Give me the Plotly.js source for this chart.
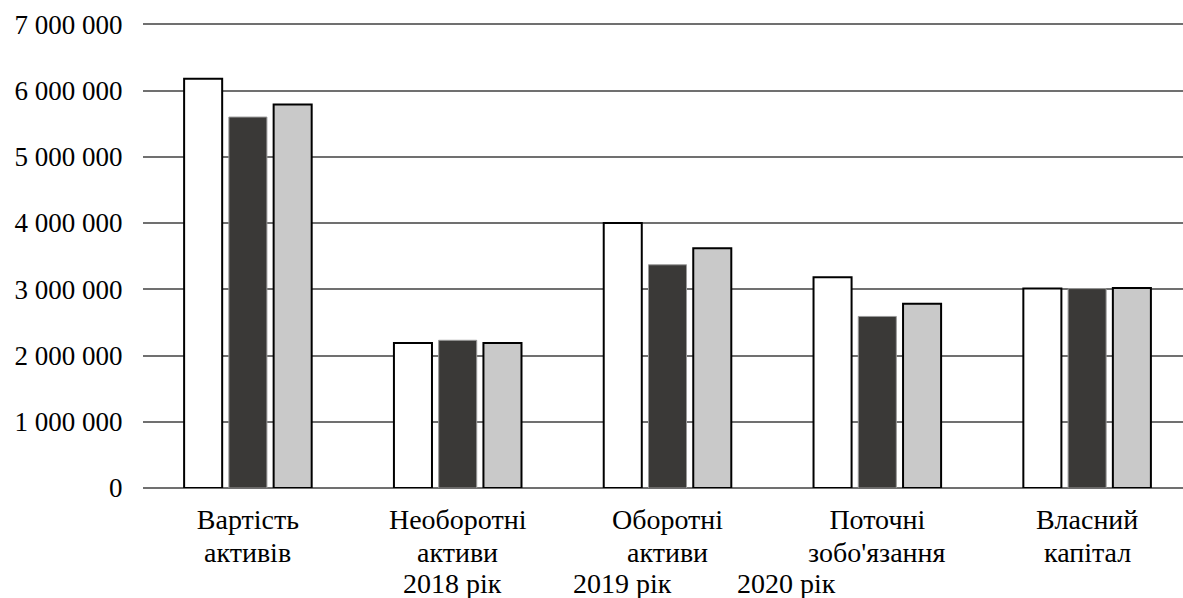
<!DOCTYPE html>
<html>
<head>
<meta charset="utf-8">
<script src="https://cdn.plot.ly/plotly-3.0.1.min.js"></script>
<style>
html,body{margin:0;padding:0;background:#fff;}
#chart{width:1183px;height:598px;}
</style>
</head>
<body>
<div id="chart"></div>
<script>
const categories = ["Вартість<br>активів", "Необоротні<br>активи", "Оборотні<br>активи", "Поточні<br>зобо'язання", "Власний<br>капітал"];
const seriesNames = ["2018 рік", "2019 рік", "2020 рік"];
const values2018 = [6180000, 2190000, 4000000, 3180000, 3010000];
const values2019 = [5600000, 2230000, 3370000, 2590000, 3010000];
const values2020 = [5790000, 2190000, 3620000, 2780000, 3020000];
const yTicks = [0, 1000000, 2000000, 3000000, 4000000, 5000000, 6000000, 7000000];
const yTickLabels = ["0", "1 000 000", "2 000 000", "3 000 000", "4 000 000", "5 000 000", "6 000 000", "7 000 000"];

const FONT = "Liberation Serif, Times New Roman, serif";
const XFS = 28;
const styles = [
  {color: "#ffffff", line: {color: "#000000", width: 2}},
  {color: "#3a3937", line: {color: "#9a9a9a", width: 1}},
  {color: "#c9c9c9", line: {color: "#000000", width: 2}}
];
const allValues = [values2018, values2019, values2020];

const traces = allValues.map((v, i) => ({
  type: "bar",
  name: seriesNames[i],
  x: categories,
  y: v,
  marker: styles[i],
  hoverinfo: "y+name",
  showlegend: false
}));

// plot area geometry (px)
const PL = 143, PR = 1183, PT = 488 - 464 * 7020000 / 7000000, PB = 488;
const PH = PB - PT;
const py = (pix) => (PB - pix) / PH;

// category labels: first line as axis tick labels, second line as annotations
const line1 = categories.map(c => c.split("<br>")[0]);
const line2 = categories.map(c => c.split("<br>")[1]);

const annotations = [];
categories.forEach((c, i) => {
  annotations.push({
    text: line2[i],
    xref: "x", yref: "paper",
    x: c, y: py(553),
    xanchor: "center", yanchor: "middle",
    showarrow: false,
    font: {family: FONT, size: XFS, color: "#000"}
  });
});
const legendX = [452, 622, 786];
seriesNames.forEach((n, i) => {
  annotations.push({
    text: n,
    xref: "paper", yref: "paper",
    x: (legendX[i] - PL) / (PR - PL),
    y: py(583.5),
    xanchor: "center", yanchor: "middle",
    showarrow: false,
    font: {family: FONT, size: XFS, color: "#000"}
  });
});

const layout = {
  width: 1183, height: 598,
  margin: {l: PL, r: 1183 - PR, t: PT, b: 598 - PB},
  paper_bgcolor: "#fff", plot_bgcolor: "#fff",
  font: {family: FONT, size: 27, color: "#000"},
  barmode: "group",
  bargap: 0.36,
  bargroupgap: 0.15,
  xaxis: {
    type: "category",
    range: [-0.5, 4.457],
    tickvals: categories,
    ticktext: line1,
    showgrid: false,
    showline: false,
    zeroline: false,
    ticks: "outside",
    ticklen: 6,
    tickcolor: "rgba(0,0,0,0)",
    tickfont: {family: FONT, size: XFS, color: "#000"},
    automargin: false
  },
  yaxis: {
    range: [0, 7020000],
    tickvals: yTicks,
    ticktext: yTickLabels,
    showgrid: true,
    gridcolor: "#707070",
    gridwidth: 1.5,
    zeroline: true,
    zerolinecolor: "#707070",
    zerolinewidth: 1.5,
    showline: false,
    ticks: "outside",
    ticklen: 14,
    tickcolor: "rgba(0,0,0,0)",
    tickfont: {family: FONT, size: 27, color: "#000"},
    automargin: false
  },
  annotations: annotations,
  showlegend: false
};

Plotly.newPlot("chart", traces, layout, {displayModeBar: false});
</script>
</body>
</html>
